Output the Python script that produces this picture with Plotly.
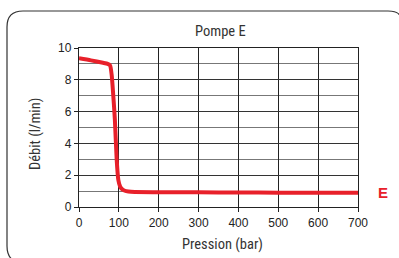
import plotly.graph_objects as go

# Data
pression = [0, 30, 60, 72, 78, 82, 86, 90, 94.5, 98.7, 103, 107, 115, 124, 140, 200, 300, 400, 500, 600, 700]
debit = [9.35, 9.22, 9.07, 9.0, 8.9, 8.3, 7.0, 5.5, 3.0, 1.7, 1.3, 1.15, 1.02, 0.97, 0.94, 0.93, 0.92, 0.91, 0.9, 0.9, 0.9]
serie_nom = "E"
titre = "Pompe E"
x_titre = "Pression (bar)"
y_titre = "Débit (l/min)"

W, H = 399, 258
L, R, T, B = 79, 41, 48, 51
PW, PH = W - L - R, H - T - B


def px(x):
    return (x - L) / PW


def py(y):
    return (H - B - y) / PH


narrow = "Roboto Condensed, DejaVu Sans Condensed, sans-serif"
red = "#e8202a"

fig = go.Figure()
fig.add_trace(go.Scatter(
    x=pression, y=debit, mode="lines",
    line=dict(color=red, width=4, shape="spline", smoothing=0.6),
    showlegend=False, hoverinfo="skip",
))

fig.add_annotation(
    x=pression[-1], y=debit[-1], xref="x", yref="y", text=f"<b>{serie_nom}</b>",
    showarrow=False, xanchor="center", yanchor="middle", xshift=25,
    font=dict(family="Arial, sans-serif", size=15, color=red),
)

# axis titles
fig.add_annotation(x=px(222), y=py(244), xref="paper", yref="paper", text=x_titre,
                   showarrow=False, xanchor="center", yanchor="middle",
                   font=dict(family=narrow, size=14.5, color="#333"))
fig.add_annotation(x=px(35), y=py(134), xref="paper", yref="paper", text=y_titre,
                   showarrow=False, xanchor="center", yanchor="middle", textangle=-90,
                   font=dict(family=narrow, size=14.5, color="#333"))
fig.add_annotation(x=px(220), y=py(31), xref="paper", yref="paper", text=titre,
                   showarrow=False, xanchor="center", yanchor="middle",
                   font=dict(family=narrow, size=14.5, color="#333"))

# rounded decorative frame (one continuous path)
d = (f"M {px(16)},{py(262)} "
     f"Q {px(7)},{py(258)} {px(7)},{py(246)} "
     f"L {px(7)},{py(27)} "
     f"Q {px(7)},{py(11)} {px(23)},{py(11)} "
     f"L {px(388)},{py(11)} "
     f"Q {px(398)},{py(11)} {px(400)},{py(16)}")
fig.add_shape(type="path", path=d, xref="paper", yref="paper",
              line=dict(color="#333", width=1.2), layer="below")

fig.update_xaxes(
    range=[0, 700], dtick=100, tick0=0, ticks="outside", ticklen=4, tickcolor="#222",
    showgrid=True, gridcolor="#222", gridwidth=1,
    showline=True, linecolor="#222", linewidth=1.3, mirror=True,
    tickfont=dict(family="Arial, sans-serif", size=12, color="#222"),
    zeroline=False, fixedrange=True,
)
fig.update_yaxes(
    range=[0, 10], dtick=2, tick0=0, ticks="outside", ticklen=4, tickcolor="#222",
    showgrid=True, gridcolor="#333", gridwidth=1,
    minor=dict(dtick=1, showgrid=True, gridcolor="#777", gridwidth=1),
    showline=True, linecolor="#222", linewidth=1.3, mirror=True,
    tickfont=dict(family="Arial, sans-serif", size=12, color="#222"),
    zeroline=False, fixedrange=True,
)

fig.update_layout(
    width=W, height=H,
    margin=dict(l=L, r=R, t=T, b=B),
    paper_bgcolor="white", plot_bgcolor="white",
    showlegend=False,
)

fig.write_html("out.html", config={"displayModeBar": False},
               post_script="document.body.style.margin='0';")
